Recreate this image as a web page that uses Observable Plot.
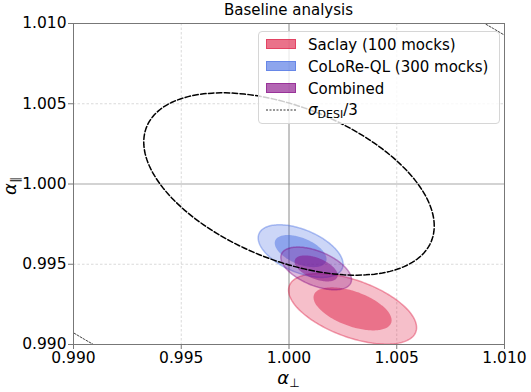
<!DOCTYPE html>
<html><head><meta charset="utf-8">
<script src="https://cdn.jsdelivr.net/npm/d3@7"></script>
<script src="https://cdn.jsdelivr.net/npm/@observablehq/plot@0.6"></script>
<style>
body{margin:0;background:#fff;font-family:"DejaVu Sans",sans-serif;}
#wrap{position:relative;width:531px;height:392px;overflow:hidden;}
#wrap svg{position:absolute;left:0;top:0;}
.ov{position:absolute;color:#000;white-space:nowrap;line-height:1;}
#title{left:73px;width:431px;top:3px;text-align:center;font-size:15px;}
#xlab{left:0;width:577px;top:369px;text-align:center;font-size:18px;}
#ylab{left:-9px;width:40px;height:20px;top:176px;text-align:center;font-size:18px;transform:rotate(-90deg);transform-origin:center;}
.gr{font-style:italic;}
#legend{position:absolute;left:258px;top:31px;width:242px;height:93px;background:rgba(255,255,255,0.8);border:1px solid #d6d6d6;border-radius:4px;box-sizing:border-box;}
.row{position:absolute;left:0;height:20px;font-size:15px;color:#000;}
.sw{position:absolute;left:7px;top:4px;width:30px;height:10px;box-sizing:border-box;}
.lt{position:absolute;left:49px;top:1px;white-space:nowrap;}
</style></head><body><div id="wrap">
<div id="title" class="ov">Baseline analysis</div>
<div id="xlab" class="ov"><span class="gr">α</span><sub style="font-size:12px;vertical-align:-3px">⊥</sub></div>
<div id="ylab" class="ov"><span class="gr">α</span><sub style="font-size:12px;vertical-align:-3px">∥</sub></div>
<div id="legend"></div>
</div>
<script>
// Series (filled confidence ellipses)
const series  = ["Saclay (100 mocks)", "CoLoRe-QL (300 mocks)", "Combined"];
const colors  = ["#DC143C", "#4169E1", "#800080"];
const centerX = [1.00295, 1.00054, 1.00126];
const centerY = [0.99222, 0.99582, 0.99474];
const halfX   = [0.00297, 0.00197, 0.00164];   // outer contour half-extent in x
const halfY   = [0.00220, 0.00164, 0.00133];   // outer contour half-extent in y
const rho     = [-0.53, -0.50, -0.52];
const levels  = [1, 0.61];                     // outer (2σ), inner (1σ) scale
// DESI reference ellipse (σ_DESI/3 dashed, σ_DESI dotted)
const desiCenter = [1.0, 1.0];
const desiHalf = [0.00674, 0.00568];
const desiRho = -0.46;
const desiScales = [1, 3];
// Axes
const xTicks = [0.990, 0.995, 1.000, 1.005, 1.010];
const yTicks = [0.990, 0.995, 1.000, 1.005, 1.010];
const gridMinor = [0.995, 1.005];
const gridMain = [1.000];

const angles = d3.range(0, 361, 2).map(d => d * Math.PI / 180);
function ellipse(cx, cy, hx, hy, r, s) {
  return angles.map(t => ({
    x: cx + s * hx * Math.cos(t),
    y: cy + s * hy * (r * Math.cos(t) + Math.sqrt(1 - r * r) * Math.sin(t))
  }));
}

const marks = [
  Plot.ruleX(gridMinor, {stroke: "#d0d0d0", strokeWidth: 0.8, strokeDasharray: "2.5,2"}),
  Plot.ruleY(gridMinor, {stroke: "#d0d0d0", strokeWidth: 0.8, strokeDasharray: "2.5,2"}),
  Plot.ruleY(gridMain, {stroke: "#c4c4c4", strokeWidth: 1.6}),
  Plot.ruleX(gridMain, {stroke: "#8a8a8a", strokeWidth: 1})
];
series.forEach((s, i) => {
  levels.forEach((lv, j) => {
    marks.push(Plot.line(ellipse(centerX[i], centerY[i], halfX[i], halfY[i], rho[i], lv), {
      x: "x", y: "y", curve: "linear-closed",
      fill: colors[i], fillOpacity: j === 0 ? 0.27 : 0.45,
      stroke: j === 0 ? colors[i] : "none", strokeOpacity: 0.4, strokeWidth: 1.5
    }));
  });
});
marks.push(Plot.line(ellipse(desiCenter[0], desiCenter[1], desiHalf[0], desiHalf[1], desiRho, desiScales[0]), {
  x: "x", y: "y", curve: "linear-closed", stroke: "#000", strokeWidth: 1.5, strokeDasharray: "5.5,2.4"
}));
marks.push(Plot.line(ellipse(desiCenter[0], desiCenter[1], desiHalf[0], desiHalf[1], desiRho, desiScales[1]), {
  x: "x", y: "y", curve: "linear-closed", stroke: "#444", strokeWidth: 1, strokeDasharray: "2,1.5", clip: true
}));
marks.push(Plot.frame({stroke: "#777", strokeWidth: 1}));
marks.push(Plot.axisX({ticks: xTicks, tickFormat: d3.format(".3f"), tickSize: 5, tickPadding: 2, label: null, fontSize: 15.5, stroke: "#777", fill: "black"}));
marks.push(Plot.axisY({ticks: yTicks, tickFormat: d3.format(".3f"), tickSize: 5, tickPadding: 2, label: null, fontSize: 15.5, stroke: "#777", fill: "black"}));

const chart = Plot.plot({
  width: 531, height: 392,
  marginLeft: 73, marginRight: 27, marginTop: 23, marginBottom: 48,
  x: {domain: [0.990, 1.010]},
  y: {domain: [0.990, 1.010]},
  style: {fontFamily: "DejaVu Sans", fontSize: "15.5px", background: "#fff", color: "#000"},
  marks
});
document.getElementById("wrap").prepend(chart);

// Legend
const lg = document.getElementById("legend");
series.forEach((s, i) => {
  const row = document.createElement("div");
  row.className = "row";
  row.style.top = (3 + i * 21.8) + "px";
  const sw = document.createElement("span");
  sw.className = "sw";
  const c = d3.color(colors[i]);
  sw.style.background = `rgba(${c.r},${c.g},${c.b},0.6)`;
  sw.style.border = `1px solid rgba(${c.r},${c.g},${c.b},0.5)`;
  const t = document.createElement("span");
  t.className = "lt"; t.textContent = s;
  row.append(sw, t); lg.append(row);
});
const row = document.createElement("div");
row.className = "row"; row.style.top = (3 + 3 * 21.8) + "px";
row.innerHTML = `<svg style="position:absolute;left:7px;top:9px" width="30" height="2"><line x1="0" x2="30" y1="1" y2="1" stroke="#333" stroke-width="1" stroke-dasharray="2,1.5"/></svg><span class="lt"><span class="gr">σ</span><sub style="font-size:11px;vertical-align:-3px">DESI</sub>/3</span>`;
lg.append(row);
</script>
</body></html>
